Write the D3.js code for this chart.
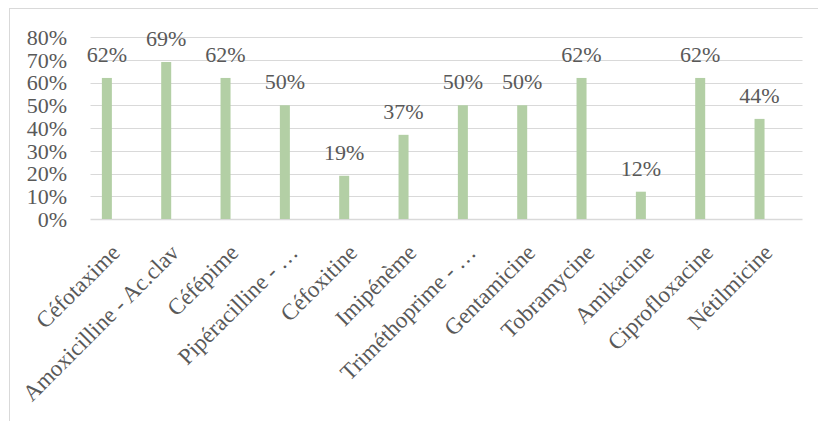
<!DOCTYPE html>
<html>
<head>
<meta charset="utf-8">
<script src="https://cdn.jsdelivr.net/npm/d3@7"></script>
<style>
  html, body { margin: 0; padding: 0; background: #fff; }
  svg { display: block; }
  svg text { font-family: "Liberation Serif", "Times New Roman", serif; }
</style>
</head>
<body>
<svg id="chart" width="818" height="421"></svg>
<script>
// Antibiotic resistance rates
const categories = [
  "Céfotaxime", "Amoxicilline - Ac.clav", "Céfépime", "Pipéracilline - …",
  "Céfoxitine", "Imipénème", "Triméthoprime - …", "Gentamicine",
  "Tobramycine", "Amikacine", "Ciprofloxacine", "Nétilmicine"
];
const values = [0.62, 0.69, 0.62, 0.50, 0.19, 0.37, 0.50, 0.50, 0.62, 0.12, 0.62, 0.44];
const yTicks = [0, 0.1, 0.2, 0.3, 0.4, 0.5, 0.6, 0.7, 0.8];

const svg = d3.select("#chart");
const textColor = "#595959";
const gridColor = "#d9d9d9";
const fontSize = 22;
const catFontSize = 23;

// Outer chart frame
svg.append("rect")
  .attr("x", 9.5).attr("y", 8.5)
  .attr("width", 900).attr("height", 600)
  .attr("fill", "none").attr("stroke", gridColor).attr("stroke-width", 1);

const plot = { left: 90.5, right: 802.5, top: 37, bottom: 219 };

const x = d3.scaleBand()
  .domain(categories)
  .range([plot.left, plot.right]);

const y = d3.scaleLinear()
  .domain([0, 0.8])
  .range([plot.bottom, plot.top]);

const barWidth = 10;
// bars sit in the first slot of each category (clustered layout)
const barShift = -13.3;
const barCenter = i => x(categories[i]) + x.bandwidth() / 2 + barShift;

// Horizontal gridlines
svg.append("g")
  .selectAll("line")
  .data(yTicks)
  .join("line")
  .attr("x1", plot.left).attr("x2", plot.right)
  .attr("y1", d => Math.round(y(d)) + 0.5)
  .attr("y2", d => Math.round(y(d)) + 0.5)
  .attr("stroke", gridColor)
  .attr("stroke-width", d => d === 0 ? 1.5 : 1.2);

// Y axis labels
const yAxis = d3.axisLeft(y)
  .tickValues(yTicks)
  .tickFormat(d3.format(".0%"))
  .tickSize(0)
  .tickPadding(0);

const yg = svg.append("g")
  .attr("transform", "translate(67,0)")
  .call(yAxis)
  .attr("font-family", null)
  .attr("font-size", null);
yg.select(".domain").remove();
yg.selectAll("text")
  .style("font-size", fontSize + "px")
  .attr("fill", textColor)
  .attr("dy", "0.34em");

// Bars
svg.append("g")
  .selectAll("rect")
  .data(values)
  .join("rect")
  .attr("x", (d, i) => barCenter(i) - barWidth / 2)
  .attr("y", d => y(d))
  .attr("width", barWidth)
  .attr("height", d => plot.bottom - y(d))
  .attr("fill", "#b3cfa5");

// Value labels
svg.append("g")
  .selectAll("text")
  .data(values)
  .join("text")
  .attr("x", (d, i) => barCenter(i))
  .attr("y", d => y(d) - 16)
  .attr("text-anchor", "middle")
  .style("font-size", fontSize + "px")
  .attr("fill", textColor)
  .text(d => d3.format(".0%")(d));

// Category labels, rotated
const xAxis = d3.axisBottom(x).tickSize(0).tickPadding(0);
const xg = svg.append("g")
  .attr("transform", `translate(0,${plot.bottom})`)
  .call(xAxis)
  .attr("font-family", null)
  .attr("font-size", null);
xg.select(".domain").remove();
xg.selectAll("text")
  .style("font-size", catFontSize + "px")
  .attr("fill", textColor)
  .attr("text-anchor", "end")
  .attr("dy", null)
  .attr("y", 0)
  .attr("transform", "translate(1,35) rotate(-45)");
</script>
</body>
</html>
